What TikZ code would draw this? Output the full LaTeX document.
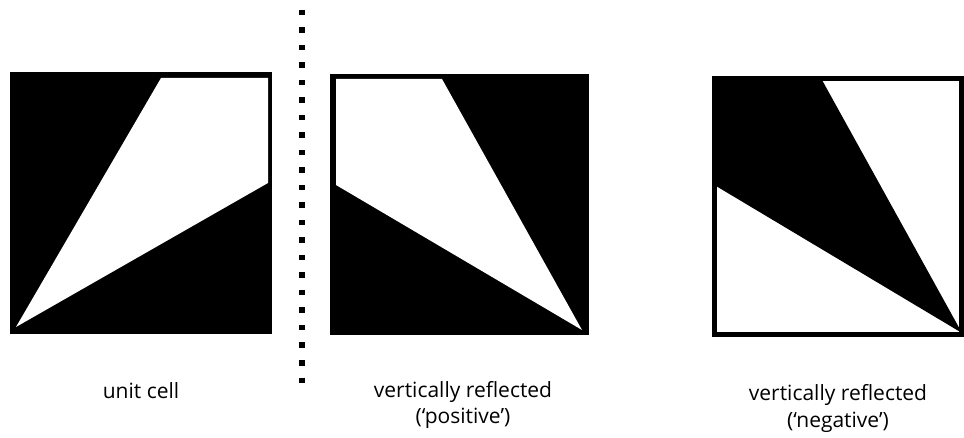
\documentclass[tikz,border=0pt]{standalone}
\usepackage{fontspec}
\setmainfont{Open Sans}
\begin{document}
\begin{tikzpicture}[x=1pt,y=-1pt,
  lbl/.style={anchor=base,inner sep=0pt,font=\fontsize{21}{26}\selectfont},
  blk/.style={fill=black,draw=none},
  wht/.style={fill=white,draw=none}]
\useasboundingbox (0,0) rectangle (964,438);
% square 1: unit cell
\fill[blk] (10,72) rectangle (272,334);
\fill[wht] (161,78) -- (268,78) -- (268,183) -- (16,327) -- cycle;
% square 2: vertically reflected (positive)
\fill[blk] (330,74) rectangle (589,335);
\fill[wht] (336,79) -- (442,79) -- (582,330) -- (336,185) -- cycle;
% square 3: vertically reflected (negative)
\fill[blk] (713,78) -- (822,80) -- (962,333) -- (716,186) -- cycle;
\draw[line width=5pt] (714.5,78.5) rectangle (961.5,334.5);
% dotted separator
\coordinate (sepTop) at (302,10);
\coordinate (sepBot) at (302,384);
\draw[line width=5.5pt,dash pattern=on 5.5pt off 12pt] (sepTop) -- (sepBot);
% labels
\node[lbl] (l1) at (141,398) {unit cell};
\node[lbl] (l2a) at (463,397) {vertically reflected};
\node[lbl] (l2b) at (463,423) {(‘positive’)};
\node[lbl] (l3a) at (838,400) {vertically reflected};
\node[lbl] (l3b) at (838,427) {(‘negative’)};
\end{tikzpicture}
\end{document}
